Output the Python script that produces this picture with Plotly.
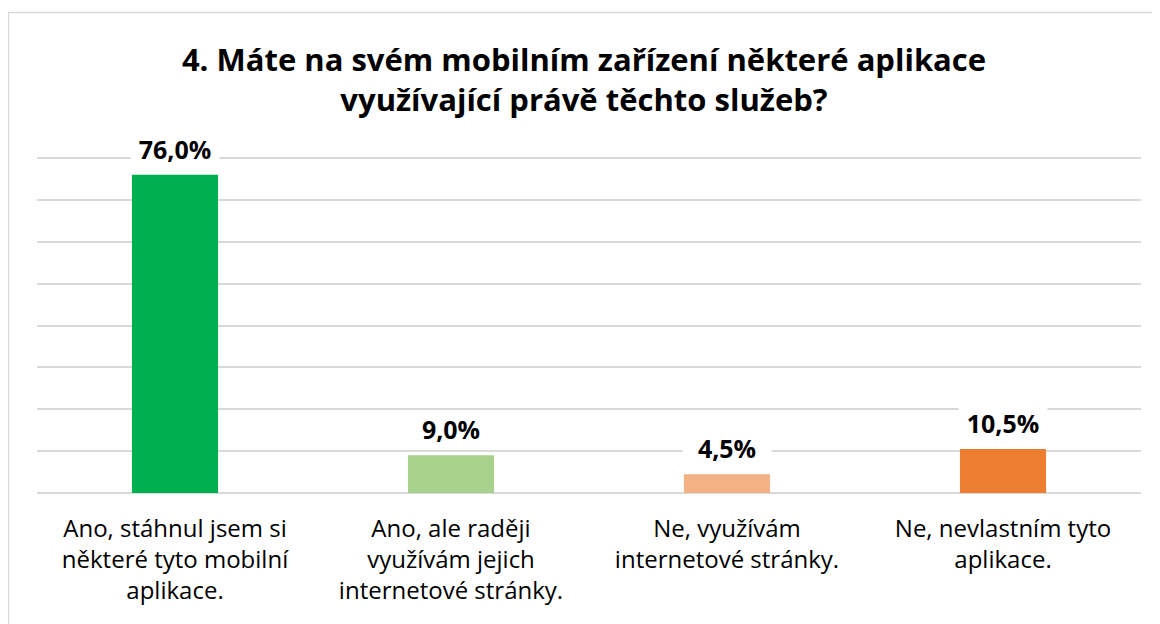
import plotly.graph_objects as go

categories = [
    "Ano, stáhnul jsem si<br>některé tyto mobilní<br>aplikace.",
    "Ano, ale raději<br>využívám jejich<br>internetové stránky.",
    "Ne, využívám<br>internetové stránky.",
    "Ne, nevlastním tyto<br>aplikace.",
]
values = [76.0, 9.0, 4.5, 10.5]
labels = ["76,0%", "9,0%", "4,5%", "10,5%"]
colors = ["#00B050", "#A9D18E", "#F4B183", "#ED7D31"]
title_text = "4. Máte na svém mobilním zařízení některé aplikace<br>využívající právě těchto služeb?"

FONT = "Open Sans"

fig = go.Figure()
fig.add_trace(go.Bar(
    x=categories, y=values, marker=dict(color=colors, line=dict(width=0)),
    hoverinfo="skip",
))

for c, v, t in zip(categories, values, labels):
    fig.add_annotation(
        x=c, y=v, text="<b>%s</b>" % t, showarrow=False,
        yanchor="middle", yshift=26, width=86, bgcolor="white",
        font=dict(family=FONT, size=25, color="black"),
    )

# page body has an 8px margin: figure spans page 8..1160 x 8..624
W, H = 1152, 616
ml, mr, mt, mb = 29, 19, 149, 131
pw, ph = W - ml - mr, H - mt - mb
# outer border (chart area frame)
fig.add_shape(
    type="rect", xref="paper", yref="paper",
    x0=(0.5 - ml) / pw, x1=(W + 10 - ml) / pw,
    y0=-(H + 10 - mt - ph) / ph, y1=1 + (mt - 4.5) / ph,
    line=dict(color="#D9D9D9", width=1.5), fillcolor="rgba(0,0,0,0)", layer="below",
)

fig.update_layout(
    width=W, height=H,
    margin=dict(l=ml, r=mr, t=mt, b=mb),
    paper_bgcolor="white", plot_bgcolor="white",
    bargap=0.688,
    showlegend=False,
    title=dict(
        text="<b>%s</b>" % title_text, x=0.5, xanchor="center",
        y=1 - 62.5 / H, yanchor="middle",
        font=dict(family=FONT, size=31, color="black"),
    ),
    font=dict(family=FONT, color="black"),
)
fig.update_xaxes(
    showgrid=False, showline=False, ticks="",
    tickfont=dict(family=FONT, size=24, color="black"),
    ticklabelstandoff=19,
)
fig.update_yaxes(
    range=[0, 80.25], dtick=10, showgrid=True, gridcolor="#D9D9D9", gridwidth=1.5,
    showticklabels=False, zeroline=True, zerolinecolor="#D9D9D9", zerolinewidth=1.5,
    showline=False,
)

fig.write_html("out.html")
